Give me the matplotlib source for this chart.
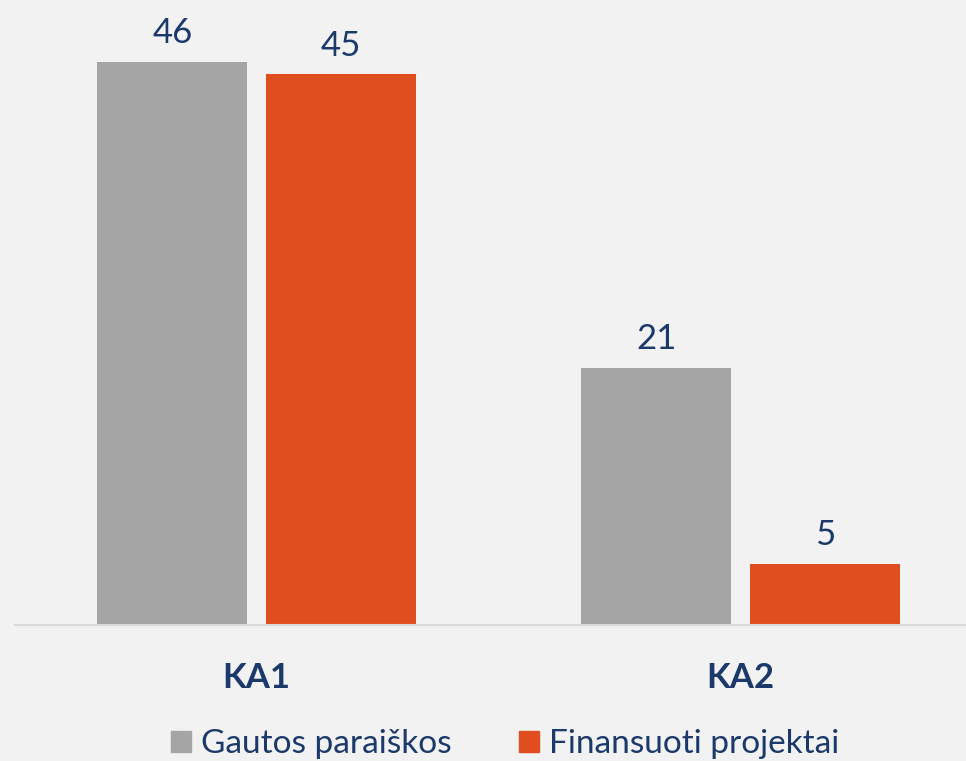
import numpy as np
from matplotlib import pyplot as plt
from matplotlib.patches import Patch

plt.rcParams['font.family'] = ['Lato', 'DejaVu Sans']

categories = ['KA1', 'KA2']
gautos = [46, 21]
finansuoti = [45, 5]
series_names = ['Gautos paraiškos', 'Finansuoti projektai']

bg = '#F2F2F2'
gray = '#A5A5A5'
orange = '#E04E20'
navy = '#1B3A6B'

fig = plt.figure(figsize=(9.66, 7.61), dpi=100, facecolor=bg)
ax = fig.add_axes([15/966, 136/761, 951/966, 625/761])
ax.set_facecolor(bg)

x = np.arange(len(categories))
w = 0.31
off = 0.174
b1 = ax.bar(x - off, gautos, w, color=gray)
b2 = ax.bar(x + off, finansuoti, w, color=orange)
for b in (b1, b2):
    ax.bar_label(b, padding=9, fontsize=25, color=navy)

ax.set_xlim(-0.499, 1.466)
ax.set_ylim(0, 51.06)
ax.set_yticks([])
ax.set_xticks(x)
ax.set_xticklabels(categories, fontsize=25, fontweight='bold', color=navy)
ax.tick_params(axis='x', length=0, pad=27)
for s in ['top', 'right', 'left']:
    ax.spines[s].set_visible(False)
ax.spines['bottom'].set_color('#D9D9D9')
ax.spines['bottom'].set_linewidth(1.5)

handles = [Patch(color=gray), Patch(color=orange)]
leg = fig.legend(handles, series_names, loc='center', bbox_to_anchor=(505/966, 17/761),
                 ncol=2, frameon=False, fontsize=24, handlelength=0.6, handleheight=0.6,
                 handletextpad=0.3, columnspacing=2.0, borderaxespad=0)
for t in leg.get_texts():
    t.set_color(navy)

plt.savefig('out.png', dpi=100, facecolor=bg)
